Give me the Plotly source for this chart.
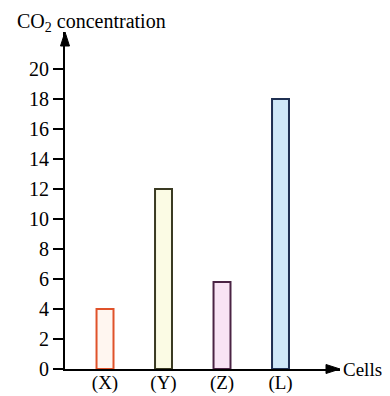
import plotly.graph_objects as go

categories = ["(X)", "(Y)", "(Z)", "(L)"]
co2_values = [4, 12, 5.8, 18]
y_ticks = [0, 2, 4, 6, 8, 10, 12, 14, 16, 18, 20]

fill_colors = ["#fff6f0", "#fbfbe4", "#f8e4f4", "#cfe8f8"]
edge_colors = ["#e0522a", "#3a3a22", "#4a2444", "#1f3052"]

FONT = "Liberation Serif"

fig = go.Figure()
fig.add_trace(go.Bar(
    x=categories, y=co2_values, width=0.29,
    marker=dict(color=fill_colors, line=dict(color=edge_colors, width=2)),
    showlegend=False, hoverinfo="skip",
))

# arrowheads at the ends of both axes (pixel-sized shapes anchored to the plot corners)
arrow_common = dict(type="path", xref="paper", yref="paper",
                    xsizemode="pixel", ysizemode="pixel",
                    fillcolor="black", line=dict(color="black", width=1),
                    layer="above")
fig.add_shape(**arrow_common, xanchor=0, yanchor=1,
              path="M -4.5,-14 L 0,0 L 4.5,-14 Z")
fig.add_shape(**arrow_common, xanchor=1, yanchor=0,
              path="M -14,-4.5 L 0,0 L -14,4.5 Z")

# the page body adds an 8px offset, so the figure is sized 8px smaller
fig.update_layout(
    width=382, height=388,
    margin=dict(l=57, r=50, t=24, b=27),
    paper_bgcolor="white", plot_bgcolor="white",
    font=dict(family=FONT, size=20, color="black"),
    xaxis=dict(
        type="category", range=[-0.684, 4.017], automargin=False,
        showline=True, linecolor="black", linewidth=2,
        showgrid=False, zeroline=False, ticks="",
        ticklabelstandoff=-5,
        tickfont=dict(family=FONT, size=19, color="black"),
    ),
    yaxis=dict(
        range=[0, 22.47], tickvals=y_ticks, automargin=False,
        showline=True, linecolor="black", linewidth=2,
        showgrid=False, zeroline=False,
        ticks="outside", ticklen=10, tickwidth=1.5, tickcolor="black",
        tickfont=dict(family=FONT, size=20, color="black"),
    ),
    annotations=[
        dict(xref="paper", yref="paper", x=-0.182, y=1.071,
             xanchor="left", yanchor="top", showarrow=False,
             text="CO<sub>2</sub> concentration",
             font=dict(family=FONT, size=20, color="black")),
        dict(xref="paper", yref="paper", x=1.005, y=0,
             xanchor="left", yanchor="middle", showarrow=False,
             text="Cells",
             font=dict(family=FONT, size=19, color="black")),
    ],
)

fig.write_html("out.html")
